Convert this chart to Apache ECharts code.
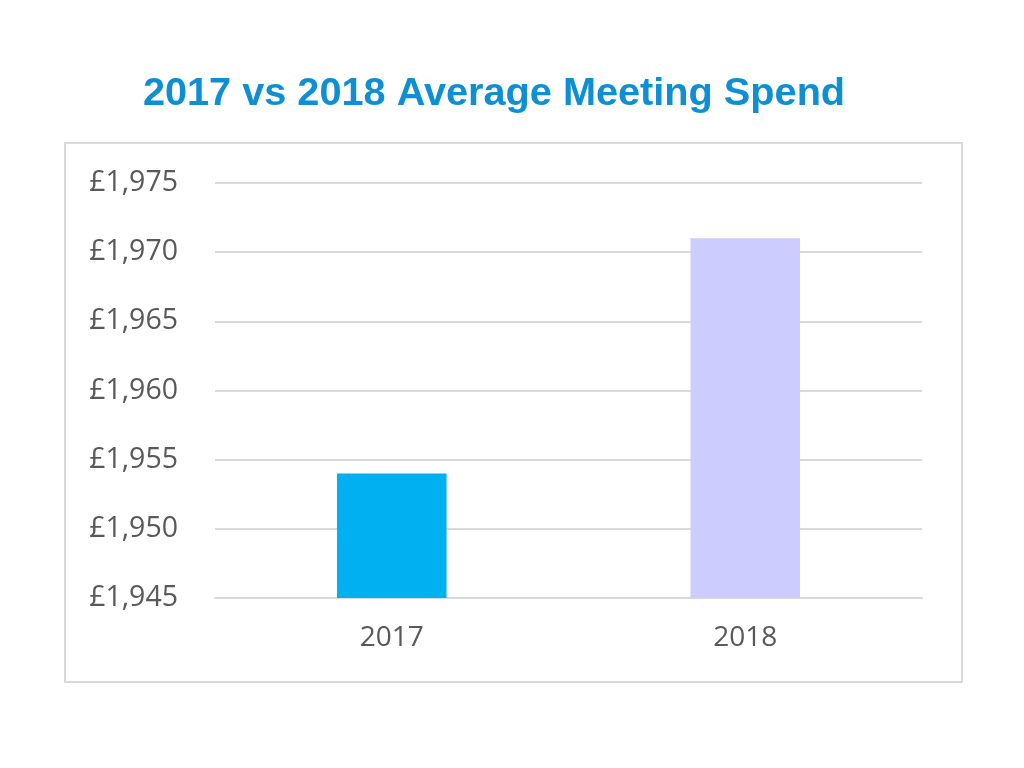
<!DOCTYPE html>
<html><head><meta charset="utf-8">
<script src="https://cdn.jsdelivr.net/npm/echarts@6/dist/echarts.min.js"></script>
<style>html,body{margin:0;padding:0;background:#fff}#c{width:1024px;height:768px}</style>
</head><body><div id="c"></div>
<script>
const categories = ['2017', '2018'];
const values = [1954, 1971];
const barColors = ['#00B0F0', '#CCCCFF'];
const titleText = '2017 vs 2018 Average Meeting Spend';

const chart = echarts.init(document.getElementById('c'));
chart.setOption({
  animation: false,
  backgroundColor: '#fff',
  title: {
    text: titleText, left: 489, textAlign: 'center', top: 69,
    textStyle: { fontFamily: 'Liberation Sans', fontWeight: 'bold', fontSize: 39.7, color: '#0E8FD3' }
  },
  graphic: [{
    type: 'rect', shape: { x: 65, y: 143, width: 897, height: 539 },
    style: { fill: 'none', stroke: '#D9D9D9', lineWidth: 2 }, silent: true
  }],
  grid: { left: 215, right: 102, top: 183, bottom: 170 },
  xAxis: {
    type: 'category', data: categories,
    axisLine: { lineStyle: { color: '#D9D9D9', width: 2 } },
    axisTick: { show: false },
    axisLabel: { color: '#595959', fontSize: 28, fontFamily: 'Open Sans', margin: 26 }
  },
  yAxis: {
    type: 'value', min: 1945, max: 1975, interval: 5,
    axisLine: { show: false }, axisTick: { show: false },
    splitLine: { lineStyle: { color: '#D9D9D9', width: 2 } },
    axisLabel: {
      color: '#595959', fontSize: 28.5, fontFamily: 'Open Sans', margin: 37,
      formatter: v => '£' + v.toLocaleString('en-GB')
    }
  },
  series: [{
    type: 'bar', barWidth: '31%',
    data: values.map((v, i) => ({ value: v, itemStyle: { color: barColors[i] } }))
  }]
});
</script></body></html>
